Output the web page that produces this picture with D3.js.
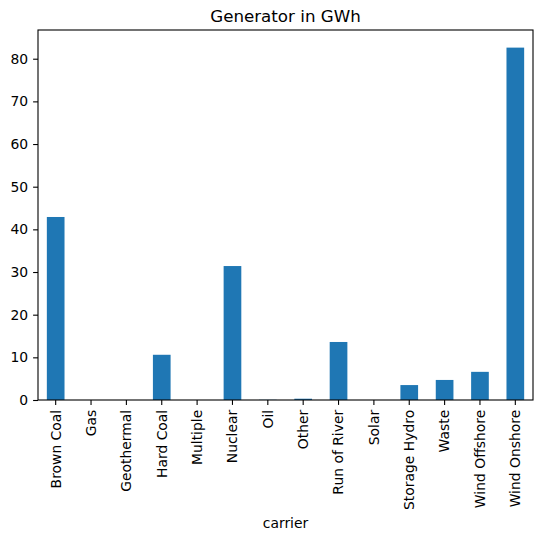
<!DOCTYPE html>
<html>
<head>
<meta charset="utf-8">
<script src="https://cdn.jsdelivr.net/npm/d3@7"></script>
<style>
  body { margin: 0; background: #fff; }
  svg text { font-family: "DejaVu Sans", sans-serif; fill: #000; }
  .tick line { stroke: #000; stroke-width: 1.1; }
  .domain { stroke: none; }
</style>
</head>
<body>
<script>
// chart data
var carriers = ['Brown Coal', 'Gas', 'Geothermal', 'Hard Coal', 'Multiple', 'Nuclear', 'Oil',
  'Other', 'Run of River', 'Solar', 'Storage Hydro', 'Waste', 'Wind Offshore', 'Wind Onshore'];
var generation = [42.9, 0, 0, 10.6, 0, 31.4, 0.05, 0.3, 13.6, 0, 3.5, 4.7, 6.6, 82.6];
var yTicks = [0, 10, 20, 30, 40, 50, 60, 70, 80];

var w = 543, h = 539;
var margin = {left: 38, right: 10, top: 30, bottom: 139};
var iw = w - margin.left - margin.right;
var ih = h - margin.top - margin.bottom;
var tick = 4.9;

var svg = d3.select('body').append('svg')
  .attr('width', w)
  .attr('height', h);

var g = svg.append('g')
  .attr('transform', 'translate(' + margin.left + ',' + margin.top + ')');

var xScale = d3.scaleBand()
  .domain(carriers)
  .range([0, iw])
  .paddingInner(0.5)
  .paddingOuter(0.25);

var yScale = d3.scaleLinear()
  .domain([0, d3.max(generation) * 1.05])
  .range([ih, 0]);

g.selectAll('rect.bar')
  .data(carriers)
  .enter()
  .append('rect')
  .attr('class', 'bar')
  .attr('x', function(d) { return xScale(d); })
  .attr('width', xScale.bandwidth())
  .attr('y', function(d, i) { return yScale(generation[i]); })
  .attr('height', function(d, i) { return ih - yScale(generation[i]); })
  .attr('fill', '#1f77b4');

var yAxis = d3.axisLeft(yScale).tickValues(yTicks).tickSize(tick).tickPadding(4.9);
g.append('g')
  .attr('class', 'yaxis')
  .call(yAxis)
  .selectAll('text')
  .style('font-size', '13.9px');

var xAxis = d3.axisBottom(xScale).tickSize(tick).tickPadding(4.9);
g.append('g')
  .attr('class', 'xaxis')
  .attr('transform', 'translate(0,' + ih + ')')
  .call(xAxis)
  .selectAll('text')
  .style('font-size', '13.9px')
  .attr('transform', 'rotate(-90)')
  .attr('text-anchor', 'end')
  .attr('dy', '0.35em')
  .attr('x', -(tick + 4.9))
  .attr('y', 0);

// frame
g.append('rect')
  .attr('width', iw)
  .attr('height', ih)
  .attr('fill', 'none')
  .attr('stroke', '#000')
  .attr('stroke-width', 1.1);

svg.append('text')
  .attr('x', margin.left + iw / 2)
  .attr('y', margin.top - 8)
  .attr('text-anchor', 'middle')
  .style('font-size', '16.7px')
  .text('Generator in GWh');

svg.append('text')
  .attr('x', margin.left + iw / 2)
  .attr('y', 528)
  .attr('text-anchor', 'middle')
  .style('font-size', '13.9px')
  .text('carrier');
</script>
</body>
</html>
